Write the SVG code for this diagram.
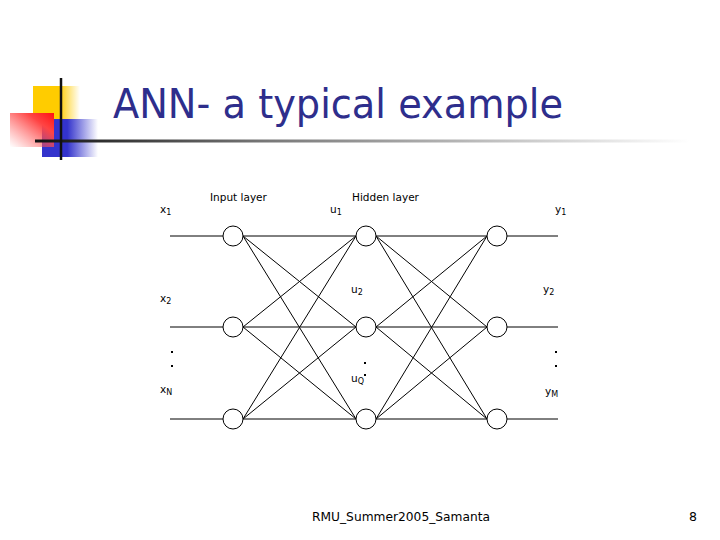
<svg xmlns="http://www.w3.org/2000/svg" width="720" height="540" viewBox="0 0 720 540">
<defs>
<linearGradient id="gY" x1="0" y1="0" x2="1" y2="0">
<stop offset="0" stop-color="#FFCC00"/><stop offset="0.55" stop-color="#FFCC00"/><stop offset="1" stop-color="#FFCC00" stop-opacity="0"/>
</linearGradient>
<linearGradient id="gB" x1="0" y1="0" x2="1" y2="0">
<stop offset="0" stop-color="#3333CC"/><stop offset="0.45" stop-color="#3333CC"/><stop offset="1" stop-color="#3333CC" stop-opacity="0"/>
</linearGradient>
<linearGradient id="gR" x1="1" y1="0" x2="0" y2="1">
<stop offset="0" stop-color="#FF1111"/><stop offset="0.3" stop-color="#FF4444"/><stop offset="1" stop-color="#FF6666" stop-opacity="0"/>
</linearGradient>
<linearGradient id="gL" x1="0" y1="0" x2="1" y2="0">
<stop offset="0" stop-color="#111111"/><stop offset="0.35" stop-color="#777777"/><stop offset="1" stop-color="#FFFFFF"/>
</linearGradient>
<style>
.lbl{font-family:"DejaVu Sans",Verdana,sans-serif;font-size:10.5px;fill:#000}
.sub{font-size:8px}
.node{fill:#fff;stroke:#000;stroke-width:1}
.conn line{stroke:#000;stroke-width:1}
</style>
</defs>
<rect width="720" height="540" fill="#fff"/>
<g id="decoration">
<rect x="33" y="86" width="47" height="33" fill="url(#gY)"/>
<rect x="42" y="119" width="56" height="38" fill="url(#gB)"/>
<rect x="10" y="113" width="44" height="34" fill="url(#gR)"/>
<rect x="35" y="139.5" width="655" height="3" fill="url(#gL)"/>
<line x1="61" y1="78" x2="61" y2="160" stroke="#111" stroke-width="2.5"/>
</g>
<text x="113" y="118" font-family="Tahoma,'DejaVu Sans',sans-serif" font-size="40" fill="#2E2E8C" textLength="450" lengthAdjust="spacingAndGlyphs">ANN- a typical example</text>
<g class="conn" id="connectors">
<line x1="170" y1="236" x2="223" y2="236"/>
<line x1="170" y1="327" x2="223" y2="327"/>
<line x1="170" y1="419" x2="223" y2="419"/>
<line x1="507" y1="236" x2="558" y2="236"/>
<line x1="507" y1="327" x2="558" y2="327"/>
<line x1="507" y1="419" x2="558" y2="419"/>
<line x1="243" y1="236" x2="356" y2="236"/>
<line x1="243" y1="236" x2="356" y2="327"/>
<line x1="243" y1="236" x2="356" y2="419"/>
<line x1="243" y1="327" x2="356" y2="236"/>
<line x1="243" y1="327" x2="356" y2="327"/>
<line x1="243" y1="327" x2="356" y2="419"/>
<line x1="243" y1="419" x2="356" y2="236"/>
<line x1="243" y1="419" x2="356" y2="327"/>
<line x1="243" y1="419" x2="356" y2="419"/>
<line x1="376" y1="236" x2="487" y2="236"/>
<line x1="376" y1="236" x2="487" y2="327"/>
<line x1="376" y1="236" x2="487" y2="419"/>
<line x1="376" y1="327" x2="487" y2="236"/>
<line x1="376" y1="327" x2="487" y2="327"/>
<line x1="376" y1="327" x2="487" y2="419"/>
<line x1="376" y1="419" x2="487" y2="236"/>
<line x1="376" y1="419" x2="487" y2="327"/>
<line x1="376" y1="419" x2="487" y2="419"/>
</g>
<g id="in1"><circle class="node" cx="233" cy="236" r="10"/></g>
<g id="in2"><circle class="node" cx="233" cy="327" r="10"/></g>
<g id="in3"><circle class="node" cx="233" cy="419" r="10"/></g>
<g id="hid1"><circle class="node" cx="366" cy="236" r="10"/></g>
<g id="hid2"><circle class="node" cx="366" cy="327" r="10"/></g>
<g id="hid3"><circle class="node" cx="366" cy="419" r="10"/></g>
<g id="out1"><circle class="node" cx="497" cy="236" r="10"/></g>
<g id="out2"><circle class="node" cx="497" cy="327" r="10"/></g>
<g id="out3"><circle class="node" cx="497" cy="419" r="10"/></g>
<g id="labels" class="lbl">
<text class="lbl" x="210" y="201">Input layer</text>
<text class="lbl" x="352" y="201">Hidden layer</text>
<text class="lbl" x="160" y="213">x<tspan class="sub" dy="2">1</tspan></text>
<text class="lbl" x="160" y="302">x<tspan class="sub" dy="2">2</tspan></text>
<text class="lbl" x="160" y="393">x<tspan class="sub" dy="2">N</tspan></text>
<text class="lbl" x="330" y="213">u<tspan class="sub" dy="2">1</tspan></text>
<text class="lbl" x="351" y="293">u<tspan class="sub" dy="2">2</tspan></text>
<text class="lbl" x="351" y="382">u<tspan class="sub" dy="2">Q</tspan></text>
<text class="lbl" x="555" y="213">y<tspan class="sub" dy="2">1</tspan></text>
<text class="lbl" x="543" y="293">y<tspan class="sub" dy="2">2</tspan></text>
<text class="lbl" x="545" y="395">y<tspan class="sub" dy="2">M</tspan></text>
</g>
<g id="dots" fill="#000">
<rect x="171" y="351" width="2" height="2"/>
<rect x="171" y="365" width="2" height="2"/>
<rect x="364" y="362" width="2" height="2"/>
<rect x="364" y="374" width="2" height="2"/>
<rect x="555" y="351" width="2" height="2"/>
<rect x="555" y="365" width="2" height="2"/>
</g>
<text x="312" y="521" font-family="Tahoma,'DejaVu Sans',sans-serif" font-size="12.5" fill="#000" textLength="178" lengthAdjust="spacingAndGlyphs">RMU_Summer2005_Samanta</text>
<text x="689" y="521" font-family="Tahoma,'DejaVu Sans',sans-serif" font-size="12.5" fill="#000">8</text>
</svg>
